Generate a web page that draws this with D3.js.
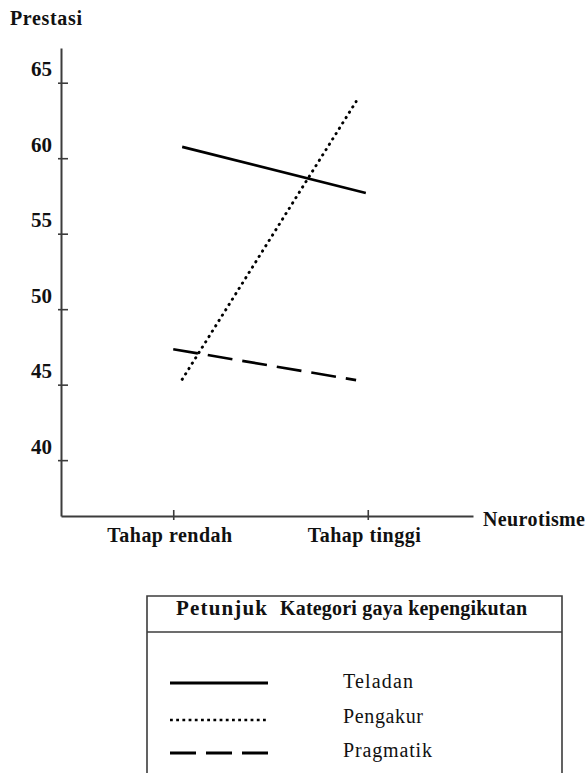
<!DOCTYPE html>
<html>
<head>
<meta charset="utf-8">
<script src="https://cdn.jsdelivr.net/npm/d3@7"></script>
<style>
  html, body { margin: 0; padding: 0; background: #fff; }
  svg { display: block; }
</style>
</head>
<body>
<svg id="chart" width="588" height="773"></svg>
<script>
// ---- data ----
const categories = ["Tahap rendah", "Tahap tinggi"];
const yTicks = [40, 45, 50, 55, 60, 65];
const seriesNames = ["Teladan", "Pengakur", "Pragmatik"];
// x positions in category units (0 = Tahap rendah, 1 = Tahap tinggi)
const teladanX = [0.046, 0.99];
const teladanY = [60.75, 57.7];
const pengakurX = [0.046, 0.94];
const pengakurY = [45.35, 63.75];
const pragmatikX = [0.0, 0.94];
const pragmatikY = [47.35, 45.3];
const yTitle = "Prestasi";
const xTitle = "Neurotisme";
const legendHead1 = "Petunjuk";
const legendHead2 = "Kategori gaya kepengikutan";

const svg = d3.select("#chart");
const serif = "'Liberation Serif', 'Times New Roman', serif";
const axisColor = "#3c3c3c";
const textColor = "#111";

const x = d3.scaleLinear().domain([-0.577, 1.541]).range([61, 473]);
const y = d3.scaleLinear().domain([36.3, 67.3]).range([516, 48]);

function txt(g, t, opts) {
  const el = g.append("text")
    .attr("x", opts.x).attr("y", opts.y)
    .attr("fill", textColor)
    .attr("text-anchor", opts.anchor || "start")
    .style("font-family", serif)
    .style("font-weight", opts.bold ? "bold" : "normal")
    .style("font-size", opts.size + "px")
    .text(t);
  if (opts.len) el.attr("textLength", opts.len).attr("lengthAdjust", "spacing");
  return el;
}

// y axis
const yAxisG = svg.append("g").attr("transform", `translate(${x(-0.577)},0)`)
  .call(d3.axisLeft(y).tickValues(yTicks).tickSizeOuter(0).tickSize(0).tickFormat(""));
yAxisG.select(".domain").attr("stroke", axisColor).attr("stroke-width", 2);
yAxisG.selectAll(".tick line").attr("x1", -3).attr("x2", 7).attr("stroke", axisColor).attr("stroke-width", 1.6);
yAxisG.selectAll(".tick").each(function(d) {
  txt(d3.select(this), d, { x: -9, y: -7, anchor: "end", bold: true, size: 21 });
});

// x axis
const xAxisG = svg.append("g").attr("transform", `translate(0,${y(36.3)})`)
  .call(d3.axisBottom(x).tickValues([0, 1]).tickSizeOuter(0).tickSize(0).tickFormat(""));
xAxisG.select(".domain").attr("stroke", axisColor).attr("stroke-width", 2);
xAxisG.selectAll(".tick line").attr("y1", -6).attr("y2", 4).attr("stroke", axisColor).attr("stroke-width", 1.6);
const xLabelLen = [125, 113];
xAxisG.selectAll(".tick").each(function(d) {
  txt(d3.select(this), categories[d], { x: -4, y: 26, anchor: "middle", bold: true, size: 20, len: xLabelLen[d] });
});

// titles
txt(svg, yTitle, { x: 10, y: 25, bold: true, size: 20, len: 72 });
txt(svg, xTitle, { x: 483, y: 526, bold: true, size: 20, len: 102 });

// series
const styles = {
  Teladan: { dash: null, cap: "butt", w: 2.6 },
  Pengakur: { dash: "0.4 5.9", cap: "round", w: 2.9 },
  Pragmatik: { dash: "25 10", cap: "butt", w: 2.6 }
};
const series = [
  { name: "Teladan", xs: teladanX, ys: teladanY },
  { name: "Pengakur", xs: pengakurX, ys: pengakurY },
  { name: "Pragmatik", xs: pragmatikX, ys: pragmatikY }
];
const line = d3.line().x(d => x(d[0])).y(d => y(d[1]));
series.forEach(s => {
  const pts = s.xs.map((v, i) => [v, s.ys[i]]);
  const st = styles[s.name];
  svg.append("path").datum(pts)
    .attr("d", line)
    .attr("fill", "none")
    .attr("stroke", "#000")
    .attr("stroke-width", st.w)
    .attr("stroke-linecap", st.cap)
    .attr("stroke-dasharray", st.dash);
});

// legend box
const lg = svg.append("g");
lg.append("path")
  .attr("d", "M147,773 L147,596 L562,596 L562,773")
  .attr("fill", "none").attr("stroke", axisColor).attr("stroke-width", 1.6);
lg.append("line").attr("x1", 147).attr("x2", 562).attr("y1", 632).attr("y2", 632)
  .attr("stroke", axisColor).attr("stroke-width", 1.6);
txt(lg, legendHead1, { x: 176, y: 615, bold: true, size: 21, len: 91 });
txt(lg, legendHead2, { x: 280, y: 615, bold: true, size: 20, len: 247 });

const legendRowY = [683, 720, 753];
const legendLabelLen = [70, 80, 89];
const legendStyles = {
  Teladan: { dash: null, w: 3 },
  Pengakur: { dash: "2.8 3.4", w: 2.7 },
  Pragmatik: { dash: "26 10", w: 3 }
};
seriesNames.forEach((n, i) => {
  const st = legendStyles[n];
  lg.append("line")
    .attr("x1", 170).attr("x2", 268)
    .attr("y1", legendRowY[i]).attr("y2", legendRowY[i])
    .attr("stroke", "#000").attr("stroke-width", st.w)
    .attr("stroke-dasharray", st.dash);
  txt(lg, n, { x: 343, y: [688, 723, 757][i], size: 20, len: legendLabelLen[i] });
});
</script>
</body>
</html>
